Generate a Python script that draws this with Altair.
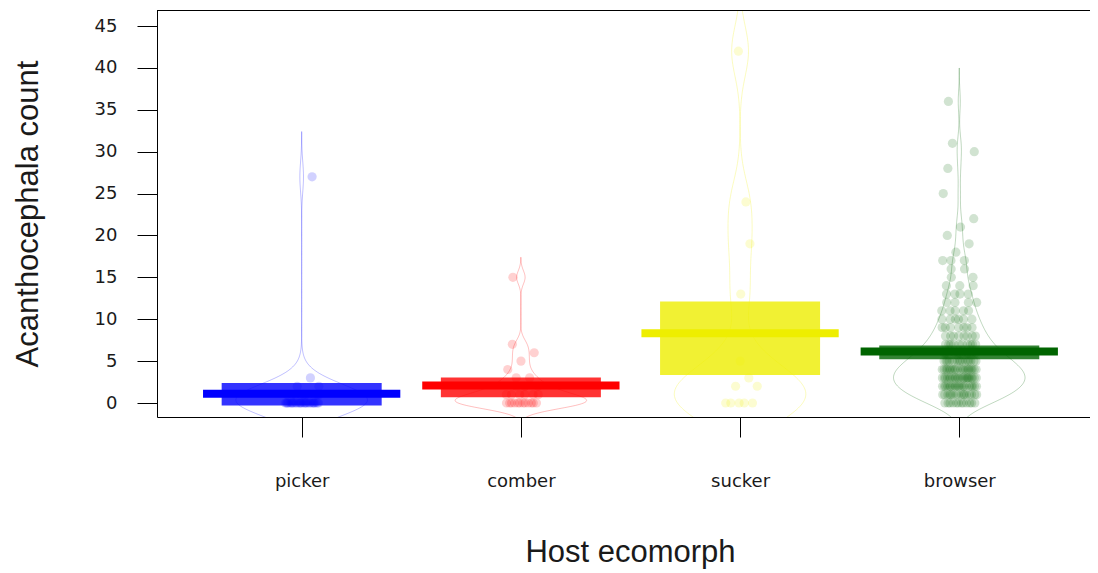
import altair as alt
import pandas as pd

# ---- data ----
groups = ["picker", "comber", "sucker", "browser"]
colors = ["#0000FF", "#FF0000", "#EEEE00", "#006400"]
means = [1.1, 2.09, 8.34, 6.14]
band_lo = [-0.3, 0.68, 3.35, 5.23]
band_hi = [2.4, 3.03, 12.12, 6.86]
bandwidths = [1.8, 0.8, 3.0, 1.33]

picker_values = [0, 1, 2, 3, 27]
picker_counts = [26, 10, 2, 1, 1]
comber_values = [0, 1, 2, 3, 4, 5, 6, 7, 15]
comber_counts = [12, 6, 3, 2, 1, 1, 1, 1, 1]
sucker_values = [0, 2, 3, 5, 13, 19, 24, 42]
sucker_counts = [5, 2, 1, 1, 1, 1, 1, 1]
browser_values = [0, 1, 2, 3, 4, 5, 6, 7, 8, 9, 10, 11, 12, 13, 14, 15, 16, 17,
                  18, 19, 20, 21, 22, 25, 28, 30, 31, 36]
browser_counts = [12, 16, 20, 22, 20, 16, 12, 10, 8, 7, 6, 5, 4, 4, 3, 2, 2, 3,
                  1, 1, 1, 1, 1, 1, 1, 1, 1, 1]
y_ticks = [0, 5, 10, 15, 20, 25, 30, 35, 40, 45]

group_values = [picker_values, comber_values, sucker_values, browser_values]
group_counts = [picker_counts, comber_counts, sucker_counts, browser_counts]

rows = []
for i, g in enumerate(groups):
    for v, c in zip(group_values[i], group_counts[i]):
        for _ in range(c):
            rows.append({"group": g, "pos": i + 1, "value": v})
points_df = pd.DataFrame(rows)

summary_df = pd.DataFrame({
    "group": groups,
    "pos": [1, 2, 3, 4],
    "mean": means,
    "lo": band_lo,
    "hi": band_hi,
})

# ---- layout ----
PAD_L, PAD_T = 149, 2
W, H = 933, 407
TOTAL_H = 563
PX_PER_UNIT = 219.2
x_dom = [0.34, 0.34 + W / PX_PER_UNIT]
y_dom = [-1.67, 46.91]

xscale = alt.Scale(domain=x_dom, nice=False, zero=False)
yscale = alt.Scale(domain=y_dom, nice=False, zero=False)

label_expr = "[" + ",".join("'%s'" % g for g in groups) + "][datum.value - 1]"

xaxis = alt.Axis(
    values=[1, 2, 3, 4], labelExpr=label_expr, grid=False,
    domain=True, domainColor="black", domainWidth=1,
    tickSize=20, tickColor="black", tickWidth=1,
    labelFont="DejaVu Sans", labelFontSize=18, labelColor="#1a1a1a",
    labelBaseline="alphabetic", labelPadding=49, labelFlush=False,
    labelOverlap=False,
    title="Host ecomorph", titleFont="Liberation Sans", titleFontSize=31,
    titleFontWeight="normal", titleColor="#1a1a1a",
    titleX=473, titleY=144.7, titleAnchor="start", titleAlign="center",
    titleBaseline="alphabetic",
)
yaxis = alt.Axis(
    values=y_ticks, grid=False,
    domain=True, domainColor="black", domainWidth=1,
    tickSize=20, tickColor="black", tickWidth=1,
    labelFont="DejaVu Sans", labelFontSize=18, labelColor="#1a1a1a",
    labelPadding=20, labelFlush=False, labelOverlap=False,
    title="Acanthocephala count", titleFont="Liberation Sans", titleFontSize=31,
    titleFontWeight="normal", titleColor="#1a1a1a", titleAngle=270,
    titleX=-120, titleY=203.5, titleAlign="center", titleBaseline="alphabetic",
)

color_scale = alt.Scale(domain=groups, range=colors)

# ---- beans (density outlines) ----
beans = []
for i, g in enumerate(groups):
    bw = bandwidths[i]
    vals = group_values[i]
    ext = [min(vals) - 3 * bw, max(vals) + 3 * bw]
    pos = i + 1
    bean = (
        alt.Chart(points_df)
        .transform_filter(alt.datum.group == g)
        .transform_density("value", as_=["value", "density"], bandwidth=bw,
                           extent=ext, steps=300)
        .transform_joinaggregate(maxd="max(density)")
        .transform_calculate(
            xl=f"{pos} - datum.density / datum.maxd * 0.3",
            xr=f"{pos} + datum.density / datum.maxd * 0.3",
        )
        .mark_area(orient="horizontal", stroke=colors[i], strokeWidth=1,
                   strokeOpacity=0.25, fillOpacity=0, clip=True)
        .encode(
            y=alt.Y("value:Q", scale=yscale, axis=yaxis),
            x=alt.X("xl:Q", scale=xscale, axis=xaxis),
            x2="xr:Q",
        )
    )
    beans.append(bean)

# ---- points ----
pts = (
    alt.Chart(points_df)
    .transform_window(k="row_number()", groupby=["group", "value"])
    .transform_calculate(
        xj="datum.pos + (((datum.k * 0.618034 + datum.value * 0.377) % 1) - 0.5) * 0.16"
    )
    .mark_circle(size=85, opacity=0.18)
    .encode(
        x=alt.X("xj:Q", scale=xscale, axis=xaxis),
        y=alt.Y("value:Q", scale=yscale, axis=yaxis),
        color=alt.Color("group:N", scale=color_scale, legend=None),
    )
)

# ---- inference bands ----
bands = (
    alt.Chart(summary_df)
    .transform_calculate(bl="datum.pos - 0.365", br="datum.pos + 0.365")
    .mark_rect(opacity=0.8)
    .encode(
        x=alt.X("bl:Q", scale=xscale, axis=xaxis),
        x2="br:Q",
        y=alt.Y("lo:Q", scale=yscale, axis=yaxis),
        y2="hi:Q",
        color=alt.Color("group:N", scale=color_scale, legend=None),
    )
)

# ---- average lines ----
avg = (
    alt.Chart(summary_df)
    .transform_calculate(ml="datum.pos - 0.45", mr="datum.pos + 0.45")
    .mark_rule(strokeWidth=8)
    .encode(
        x=alt.X("ml:Q", scale=xscale, axis=xaxis),
        x2="mr:Q",
        y=alt.Y("mean:Q", scale=yscale, axis=yaxis),
        color=alt.Color("group:N", scale=color_scale, legend=None),
    )
)

# ---- top frame line ----
frame_df = pd.DataFrame({"k": [0]})
top_line = (
    alt.Chart(frame_df)
    .mark_rule(color="black", strokeWidth=1)
    .encode(x=alt.value(0), x2=alt.value(W), y=alt.value(0.5))
)

chart = (
    alt.layer(*beans, pts, bands, avg, top_line)
    .properties(
        width=W, height=H,
        autosize=alt.AutoSizeParams(type="none"),
        padding={"left": PAD_L, "top": PAD_T, "right": 0,
                 "bottom": TOTAL_H - PAD_T - H},
    )
    .configure_view(strokeOpacity=0)
)

chart.save("out.html", embed_options={"renderer": "svg", "actions": False})
